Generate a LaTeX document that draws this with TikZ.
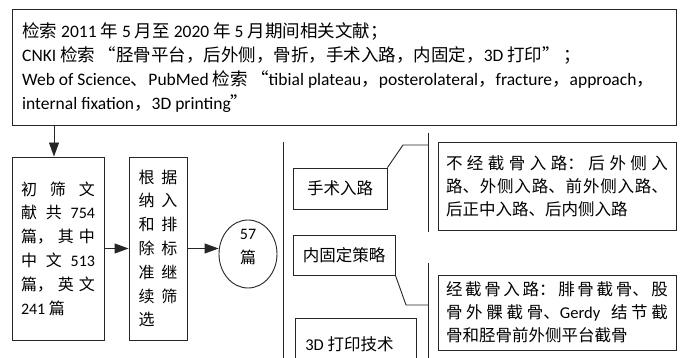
\documentclass[tikz,border=0pt]{standalone}
\usepackage{fontspec}
\setmainfont{Noto Sans CJK SC}
\newfontfamily\latf{Carlito}
\newcommand\La[1]{{\latf #1}}
\newcommand\ql{\hspace{0.2em}“}
\newcommand\qr{”\hspace{0.2em}}
\usetikzlibrary{arrows.meta,shapes.geometric}
\XeTeXlinebreaklocale "zh"
\XeTeXlinebreakskip=0pt plus 1pt
\begin{document}
\begin{tikzpicture}[x=1pt,y=-1pt,
  box/.style={draw=black!85, line width=0.9pt, rectangle, inner sep=0pt},
  ln/.style={draw=black!85, line width=0.9pt},
  arr/.style={ln, -{Triangle[length=14pt,width=10pt]}},
  tx/.style={font=\fontsize{17.5}{24}\selectfont, align=left, inner sep=0pt},
  bx/.style={font=\fontsize{16}{23.8}\selectfont},
  rx/.style={font=\fontsize{16.5}{23}\selectfont}]
\useasboundingbox[fill=white] (0,0) rectangle (681,358);

% top box
\node[box, minimum width=664pt, minimum height=116pt] (top) at (344,67) {};
\node[tx, anchor=west] (toptext) at (22,68) {检索\La{ 2011 }年\La{ 5 }月至\La{ 2020 }年\La{ 5 }月期间相关文献；\\
\La{CNKI }检索\ql 胫骨平台，后外侧，骨折，手术入路，内固定，\La{3D }打印\qr；\\
\La{Web of Science}、\La{PubMed }检索\ql\La{tibial plateau}，\La{posterolateral}，\La{fracture}，\La{approach}，\\
\La{internal fixation}，\La{3D printing}”};

% left chain
\node[box, minimum width=92pt, minimum height=183pt, bx, align=left] (b1) at (58,248.5)
 {\hbox to 74pt{初\hfill 筛\hfill 文}\\
  \hbox to 74pt{献\hfill 共\hfill\La{754}}\\
  \hbox to 74pt{篇，\hfill 其\hfill 中}\\
  \hbox to 74pt{中\hfill 文\hfill\La{513}}\\
  \hbox to 74pt{篇，\hfill 英\hfill 文}\\
  \La{241 }篇};
\node[box, minimum width=58pt, minimum height=183pt, bx, align=left] (b2) at (158,248.5)
 {\hbox to 39pt{根\hfill 据}\\
  \hbox to 39pt{纳\hfill 入}\\
  \hbox to 39pt{和\hfill 排}\\
  \hbox to 39pt{除\hfill 标}\\
  \hbox to 39pt{准\hfill 继}\\
  \hbox to 39pt{续\hfill 筛}\\
  选};
\node[ellipse, draw=black!85, line width=0.9pt, minimum width=58pt, minimum height=68pt, inner sep=0pt] (ell) at (248,254) {};
\node[bx, align=center, inner sep=0pt] (elltext) at (248,247) {\La{57}\\篇};

\coordinate (dx) at (54,0);
\draw[arr] (top.south -| dx) -- (b1.north -| dx);
\draw[arr] (b1.east) -- (b2.west);
\draw[arr] (b2.east) -- (b2.east -| ell.west);

% right part
\coordinate (v1a) at (283,142);
\coordinate (v1b) at (283,358);
\draw[ln] (v1a) -- (v1b);
\node[box, minimum width=94pt, minimum height=41pt, rx] (tsh) at (340,188.5) {手术入路};
\node[box, minimum width=102pt, minimum height=40pt, rx] (nfix) at (344,255) {内固定策略};
\node[box, minimum width=121pt, minimum height=52pt, rx] (p3d) at (355.5,344) {\La{3D }打印技术\hspace*{12pt}};

\coordinate (v2a) at (428,133);
\coordinate (v2b) at (428,232);
\coordinate (v3a) at (428,263);
\coordinate (v3b) at (428,358);
\draw[ln] (v2a) -- (v2b);
\draw[ln] (v3a) -- (v3b);
\coordinate (k1) at (403,145);
\coordinate (k2) at (406,305);
\draw[ln] (tsh.north east) -- (k1) -- (k1 -| v2a);
\draw[ln] (nfix.south east) -- (k2) -- (k2 -| v3a);

\node[box, minimum width=238pt, minimum height=88pt, rx, text width=222pt, align=justify] (rb1) at (557,186)
 {不经截骨入路：后外侧入\linebreak 路、外侧入路、前外侧入路、\linebreak 后正中入路、后内侧入路};
\node[box, minimum width=238pt, minimum height=75pt, rx, text width=222pt, align=justify] (rb2) at (557,312.5)
 {经截骨入路：腓骨截骨、股\linebreak 骨外髁截骨、\La{Gerdy }结节截\linebreak 骨和胫骨前外侧平台截骨};
\end{tikzpicture}
\end{document}
